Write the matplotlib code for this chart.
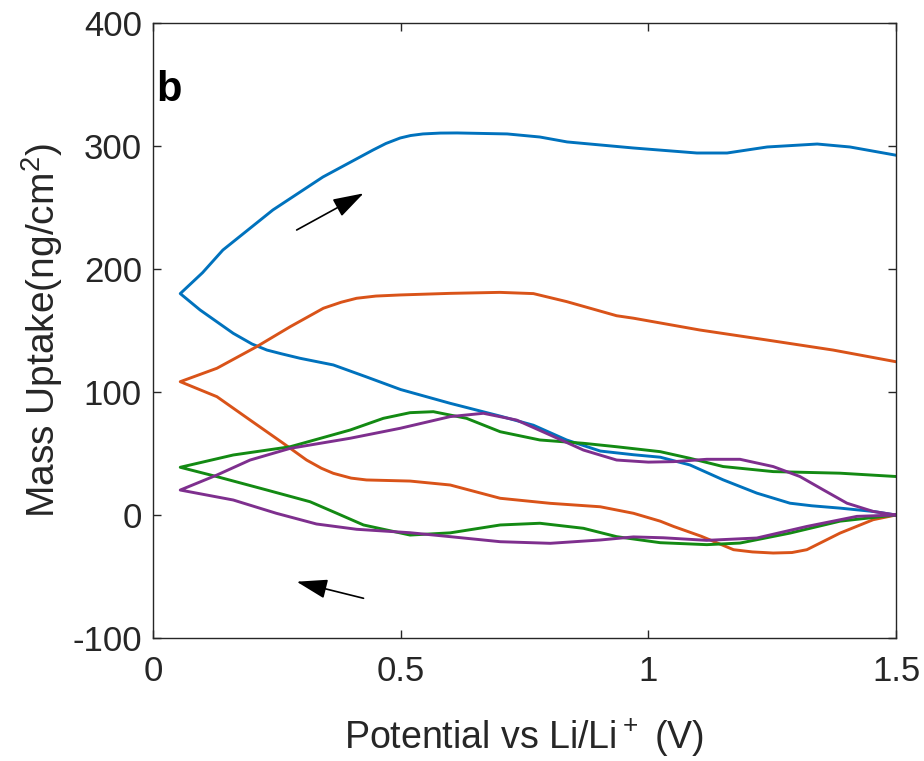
import matplotlib
matplotlib.use('Agg')
import matplotlib.pyplot as plt

plt.rcParams['font.family'] = ['Liberation Sans', 'DejaVu Sans']
plt.rcParams['mathtext.default'] = 'regular'
plt.rcParams['axes.unicode_minus'] = False

# each loop: cathodic branch 1.5 V -> 0.05 V, then anodic branch back to 1.5 V
blue_x = [1.5, 1.454, 1.387, 1.33, 1.286, 1.219, 1.151, 1.084, 1.024, 0.97, 0.903, 0.835,
          0.768, 0.70, 0.60, 0.50, 0.43, 0.364, 0.297, 0.26, 0.23, 0.20, 0.162, 0.095, 0.055,
          0.10, 0.141, 0.242, 0.343, 0.444, 0.47, 0.499, 0.52, 0.545, 0.58, 0.614, 0.715,
          0.781, 0.836, 0.969, 1.098, 1.159, 1.24, 1.341, 1.407, 1.5]
blue_y = [0, 2.9, 5.6, 7.5, 9.6, 17.8, 28.6, 40.7, 47, 49, 52, 61,
          73, 80.5, 90.8, 102, 112.4, 122, 127.4, 131, 134.1, 139, 147.7, 166.7, 180,
          197, 215.4, 248, 274.8, 296.7, 302, 306.5, 308.5, 309.8, 310.5, 310.6, 309.8,
          307.3, 303.3, 298.4, 294.3, 294.3, 299.2, 301.6, 299.2, 292.5]

orange_x = [1.5, 1.454, 1.387, 1.32, 1.29, 1.252, 1.21, 1.172, 1.107, 1.051, 1.024, 0.97,
            0.903, 0.802, 0.701, 0.60, 0.519, 0.431, 0.40, 0.364, 0.34, 0.31, 0.263, 0.196,
            0.129, 0.055,
            0.129, 0.209, 0.277, 0.344, 0.38, 0.411, 0.45, 0.499, 0.60, 0.70, 0.768, 0.835,
            0.936, 0.97, 1.104, 1.239, 1.373, 1.5]
orange_y = [0, -3.8, -14.7, -28.2, -30.5, -30.9, -30, -28.2, -17.3, -9.3, -5, 1.4,
            6.7, 9.5, 13.6, 24.4, 27.6, 28.5, 30, 33.9, 38, 44.7, 58.3, 77.2,
            96.2, 108.4,
            119.3, 136.8, 153.1, 168.1, 173, 176.2, 178, 178.9, 180.2, 181, 180, 173.5,
            162, 160, 150.4, 142.3, 134.1, 124.6]

green_x = [1.5, 1.387, 1.286, 1.185, 1.118, 1.024, 0.936, 0.869, 0.781, 0.701, 0.60,
           0.519, 0.425, 0.371, 0.317, 0.23, 0.129, 0.055,
           0.162, 0.277, 0.398, 0.465, 0.519, 0.566, 0.633, 0.701, 0.781, 0.869, 0.936,
           1.024, 1.084, 1.151, 1.252, 1.387, 1.5]
green_y = [0, -5, -14.7, -22.8, -24.1, -22.5, -17.6, -10.8, -6.7, -8.1, -14.5,
           -16.3, -8.1, 1.4, 10.8, 20.3, 31.2, 38.8,
           48.8, 55.5, 69.1, 78.6, 83.2, 84, 78.6, 67.7, 61, 58.3, 55.5,
           51.5, 46.1, 39.4, 35.3, 34, 31.3]

purple_x = [1.5, 1.421, 1.32, 1.219, 1.118, 1.03, 0.97, 0.903, 0.802, 0.701, 0.60, 0.519,
            0.411, 0.33, 0.249, 0.162, 0.055,
            0.129, 0.196, 0.277, 0.398, 0.499, 0.60, 0.667, 0.734, 0.802, 0.869, 0.936,
            1.0, 1.051, 1.118, 1.185, 1.252, 1.306, 1.353, 1.401, 1.454, 1.5]
purple_y = [0, -1.1, -9.3, -18.7, -20.6, -18.5, -17.8, -20.3, -23, -21.7, -17.6, -14.4,
            -11.6, -7.3, 1.4, 12.2, 20.3,
            32.5, 44.7, 54.2, 62.4, 70.5, 80, 82.7, 77.2, 65, 52.8, 44.7,
            43, 43.4, 45.3, 45.3, 39.4, 31.3, 20.5, 9.6, 2.9, 0]

fig = plt.figure(figsize=(9.24, 7.61), dpi=100)
ax = fig.add_axes([0.1656, 0.1616, 0.8041, 0.8082])

lw = 2.1
ax.plot(blue_x, blue_y, color='#0072BD', linewidth=lw)
ax.plot(orange_x, orange_y, color='#D95319', linewidth=lw)
ax.plot(green_x, green_y, color='#138A13', linewidth=lw)
ax.plot(purple_x, purple_y, color='#7E2F8E', linewidth=lw)

# scan direction arrows
arrow = dict(arrowstyle='-|>,head_length=1.9,head_width=0.6', color='black', lw=1.2,
             shrinkA=0, shrinkB=0)
ax.annotate('', xy=(0.425, 261.5), xytext=(0.29, 231.7), arrowprops=arrow)
ax.annotate('', xy=(0.29, -54.2), xytext=(0.425, -67.7), arrowprops=arrow)

ax.text(0.004, 0.873, 'b', transform=ax.transAxes, fontsize=30, fontweight='bold')

ax.set_xlim(0, 1.5)
ax.set_ylim(-100, 400)
ax.set_xticks([0, 0.5, 1, 1.5])
ax.set_xticklabels(['0', '0.5', '1', '1.5'])
ax.set_yticks([-100, 0, 100, 200, 300, 400])
ax.tick_params(direction='in', top=True, right=True, length=6, width=1,
               labelsize=25, colors='#262626', pad=8)
ax.tick_params(axis='x', pad=12)
for s in ax.spines.values():
    s.set_color('#262626')
    s.set_linewidth(1)

ax.set_xlabel('Potential vs Li/Li$^+$ (V)', fontsize=27, color='#262626', labelpad=21)
ax.set_ylabel('Mass Uptake(ng/cm$^2$)', fontsize=28, color='#262626', labelpad=5)

fig.savefig('out.png', dpi=100)
